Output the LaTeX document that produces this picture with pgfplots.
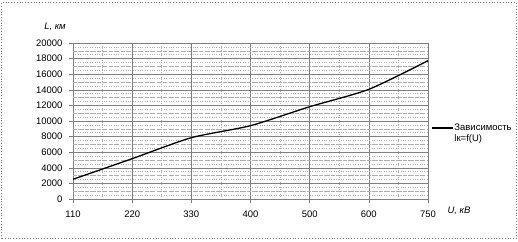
\documentclass[border=0pt]{standalone}
\usepackage{pgfplots}
\pgfplotsset{compat=1.18}
\usepackage{fontspec}
\setmainfont{Liberation Sans}
\definecolor{axgray}{RGB}{128,128,128}
\definecolor{gridlight}{RGB}{175,175,175}
\begin{document}
\begin{tikzpicture}[x=1bp,y=1bp]
\useasboundingbox (0,0) rectangle (518,241);
\fill[white] (0,0) rectangle (518,241);
\draw[axgray, dotted, line width=0.8bp] (1.5,2.5) rectangle (516,238.5);
\begin{axis}[
  at={(73bp,42bp)}, anchor=south west,
  scale only axis, width=355bp, height=156bp,
  xmin=0, xmax=6, ymin=0, ymax=20000,
  xtick={0,1,2,3,4,5,6},
  xticklabels={110,220,330,400,500,600,750},
  ytick={0,2000,...,20000},
  minor x tick num=1,
  minor y tick num=3,
  extra y ticks={1000,3000,5000,7000,9000,11000,13000,15000,17000,19000},
  extra y tick labels={},
  extra y tick style={major tick length=0pt, major grid style={gridlight, dash pattern=on 4bp off 2bp, line width=0.6bp}},
  grid=both,
  major grid style={axgray, line width=0.6bp},
  minor grid style={gridlight, dotted, line width=0.6bp},
  axis line style={axgray, line width=0.8bp},
  tick style={axgray, line width=0.6bp},
  tick align=outside, tick pos=left,
  major tick length=4bp, minor tick length=0pt,
  scaled y ticks=false,
  /pgf/number format/assume math mode=true,
  /pgf/number format/1000 sep={},
  ticklabel style={font=\fontsize{9.5}{11}\selectfont, text=black},
  yticklabel style={xshift=-3bp},
  xticklabel style={yshift=-4bp},
  legend style={at={(1,0.456)}, anchor=west, draw=none, fill=none,
    font=\fontsize{9.5}{11}\selectfont, nodes={inner sep=1pt}},
  legend image code/.code={\draw[#1] (0bp,0bp) -- (21bp,0bp);},
  legend cell align=left,
]
\addplot[black, line width=1.3bp, smooth, tension=0.4] coordinates {
  (0,2530) (1,5170) (2,7860) (3,9400) (4,11830) (5,14060) (6,17730)
};
\addlegendentry{\vtop{\hbox{Зависимость}\hbox{lк=f(U)}}}
\end{axis}
\node[font=\fontsize{9.5}{11}\itshape] at (55,214) {L, км};
\node[font=\fontsize{9.5}{11}\itshape] at (459,30) {U, кВ};
\end{tikzpicture}
\end{document}
